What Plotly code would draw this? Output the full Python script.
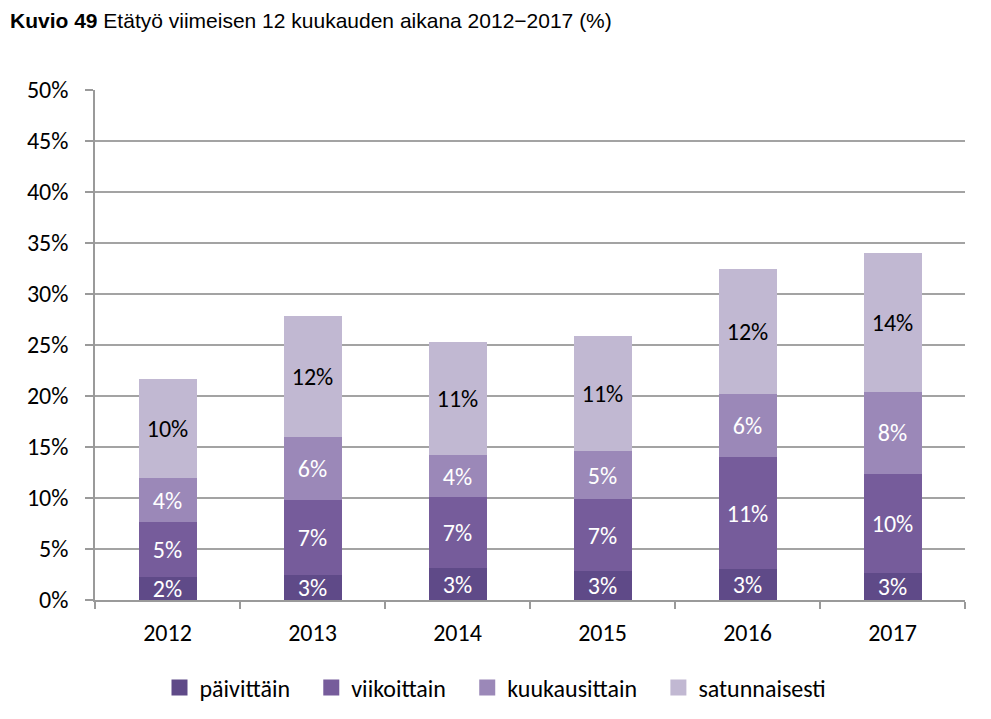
import plotly.graph_objects as go

years = ["2012", "2013", "2014", "2015", "2016", "2017"]
series_names = ["päivittäin", "viikoittain", "kuukausittain", "satunnaisesti"]
paivittain = [2.3, 2.5, 3.1, 2.8, 3.0, 2.6]
viikoittain = [5.3, 7.3, 7.0, 7.1, 11.0, 9.8]
kuukausittain = [4.4, 6.2, 4.1, 4.7, 6.2, 8.0]
satunnaisesti = [9.7, 11.8, 11.1, 11.3, 12.3, 13.6]
labels = {
    "päivittäin": ["2%", "3%", "3%", "3%", "3%", "3%"],
    "viikoittain": ["5%", "7%", "7%", "7%", "11%", "10%"],
    "kuukausittain": ["4%", "6%", "4%", "5%", "6%", "8%"],
    "satunnaisesti": ["10%", "12%", "11%", "11%", "12%", "14%"],
}
y_ticks = [0, 5, 10, 15, 20, 25, 30, 35, 40, 45, 50]
y_tick_text = [f"{v}%" for v in y_ticks]

colors = ["#5f4a88", "#765c9b", "#9b88b8", "#c1b8d2"]
text_colors = ["white", "white", "white", "black"]
values = [paivittain, viikoittain, kuukausittain, satunnaisesti]

FONT = "Carlito, Lato, Open Sans, sans-serif"

fig = go.Figure()
for name, vals, col, tc in zip(series_names, values, colors, text_colors):
    fig.add_trace(go.Bar(
        x=years, y=vals, name=name,
        marker=dict(color=col, line=dict(width=0)),
        text=labels[name], textposition="inside", insidetextanchor="middle",
        constraintext="none", textangle=0,
        textfont=dict(family=FONT, size=24, color=tc),
        hoverinfo="skip", showlegend=False,
    ))
# legend entries with larger square swatches
for i, (name, col) in enumerate(zip(series_names, colors)):
    pad = "&nbsp;&nbsp;&nbsp;" if i < len(series_names) - 1 else ""
    fig.add_trace(go.Scatter(
        x=[None], y=[None], mode="markers", name=name + pad,
        marker=dict(symbol="square", size=16, color=col),
        showlegend=True, hoverinfo="skip",
    ))

plot_w = 991 - 95 - 26
plot_h = 719 - 90 - 119

fig.update_layout(
    barmode="stack",
    bargap=0.6,
    width=991, height=719,
    margin=dict(l=95, r=26, t=90, b=119),
    plot_bgcolor="white", paper_bgcolor="white",
    font=dict(family=FONT, size=24, color="black"),
    showlegend=True,
    legend=dict(orientation="h", xref="container", x=0.5, xanchor="center",
                yref="container", y=1 - 688 / 719, yanchor="middle",
                font=dict(size=24), traceorder="normal", itemwidth=30),
    annotations=[dict(
        text="<b>Kuvio 49</b> Etätyö viimeisen 12 kuukauden aikana 2012−2017 (%)",
        x=(8 - 95) / plot_w, y=1 + (90 - 20) / plot_h, xref="paper", yref="paper",
        showarrow=False, xanchor="left", yanchor="middle",
        font=dict(family="Liberation Sans, Arial, sans-serif", size=21, color="black"),
    )],
)

fig.update_xaxes(
    type="category",
    showline=True, linecolor="#9a9a9a", linewidth=1.5,
    ticks="outside", tickson="boundaries", ticklen=7, tickcolor="#9a9a9a", tickwidth=1.5,
    showgrid=False,
    tickfont=dict(size=24),
    ticklabelstandoff=10,
)
fig.update_yaxes(
    range=[0, 50], tickmode="array", tickvals=y_ticks, ticktext=y_tick_text,
    showline=True, linecolor="#9a9a9a", linewidth=1.5,
    ticks="outside", ticklen=8, tickcolor="#9a9a9a", tickwidth=1.5,
    showgrid=True, gridcolor="#a3a3a3", gridwidth=1.5,
    zeroline=False,
    tickfont=dict(size=24),
    ticklabelstandoff=12,
)

fig.write_html("out.html")
